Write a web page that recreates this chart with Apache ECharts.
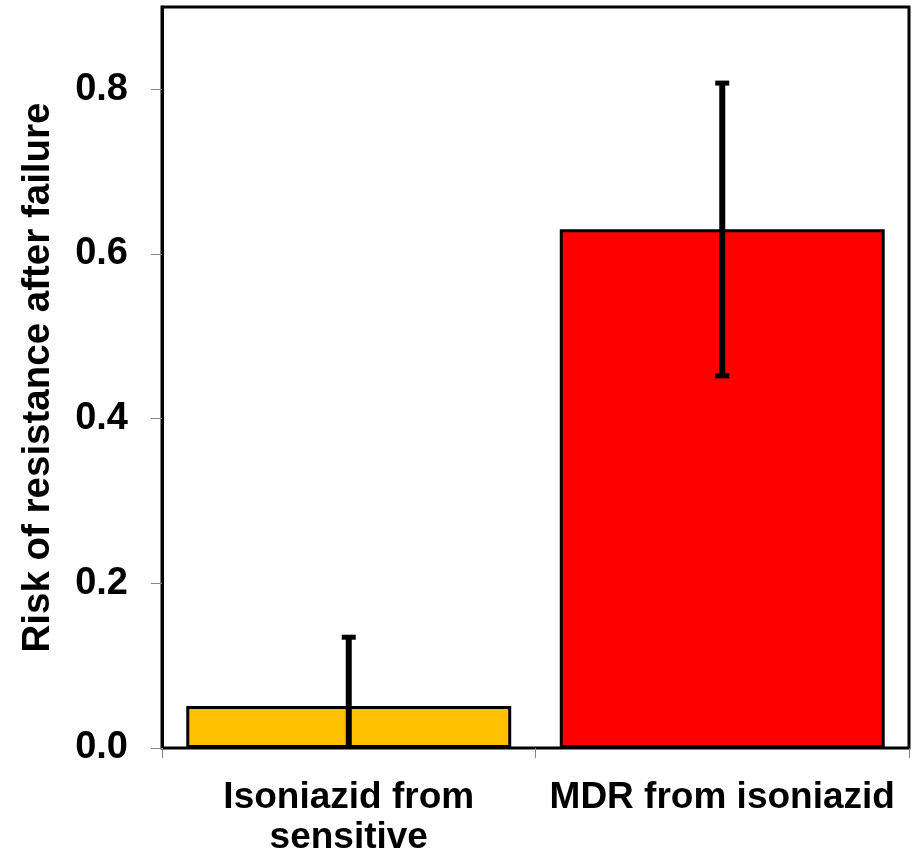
<!DOCTYPE html>
<html><head><meta charset="utf-8">
<script src="https://cdn.jsdelivr.net/npm/echarts@6/dist/echarts.min.js"></script>
<style>html,body{margin:0;padding:0;background:#fff}#c{width:922px;height:858px}</style>
</head><body><div id="c"></div>
<script>
const categories = ['Isoniazid from\nsensitive', 'MDR from isoniazid'];
const values = [0.051, 0.630];
const errLow = [0.0, 0.452];
const errHigh = [0.137, 0.810];
const barColors = ['#FFC000', '#FF0000'];
const yTicks = [0, 0.2, 0.4, 0.6, 0.8];

const chart = echarts.init(document.getElementById('c'));
const font = '"Liberation Sans", Arial, sans-serif';
chart.setOption({
  animation: false,
  grid: {left: 162, right: 13, top: 7, bottom: 110, show: true, borderColor: '#000', borderWidth: 3, backgroundColor: 'transparent'},
  xAxis: {
    type: 'category', data: categories,
    axisLine: {show: true, lineStyle: {color: '#000', width: 2}},
    axisTick: {show: true, alignWithLabel: false, length: 10, lineStyle: {color: '#888', width: 1}},
    axisLabel: {fontFamily: font, fontWeight: 'bold', fontSize: 37, color: '#000', margin: 30, lineHeight: 40,
      interval: 0, hideOverlap: false}
  },
  yAxis: {
    type: 'value', min: 0, max: 0.9, interval: 0.2,
    name: 'Risk of resistance after failure', nameLocation: 'middle', nameGap: 104,
    nameTextStyle: {fontFamily: font, fontWeight: 'bold', fontSize: 38.5, color: '#000'},
    axisLine: {show: true, lineStyle: {color: '#000', width: 3}},
    axisTick: {show: true, length: 11, customValues: yTicks, lineStyle: {color: '#888', width: 1}},
    splitLine: {show: false},
    axisLabel: {fontFamily: font, fontWeight: 'bold', fontSize: 38, color: '#000', margin: 34,
      customValues: yTicks, formatter: v => v.toFixed(1)}
  },
  series: [{
    type: 'bar', barWidth: '87%',
    data: values.map((v, i) => ({value: v, itemStyle: {color: barColors[i], borderColor: '#000', borderWidth: 3}})),
    z: 2
  }, {
    type: 'custom', z: 5,
    data: categories.map((c, i) => [i, errLow[i], errHigh[i]]),
    renderItem: function (params, api) {
      const lo = api.coord([api.value(0), api.value(1)]);
      const hi = api.coord([api.value(0), api.value(2)]);
      const x = lo[0];
      const children = [{type: 'line', shape: {x1: x, y1: lo[1], x2: x, y2: hi[1]}, style: {stroke: '#000', lineWidth: 6}},
        {type: 'line', shape: {x1: x - 7, y1: hi[1] + 2, x2: x + 7, y2: hi[1] + 2}, style: {stroke: '#000', lineWidth: 5}}];
      if (api.value(1) > 0) children.push({type: 'line', shape: {x1: x - 7, y1: lo[1], x2: x + 7, y2: lo[1]}, style: {stroke: '#000', lineWidth: 5}});
      return {type: 'group', children};
    }
  }]
});
</script></body></html>
